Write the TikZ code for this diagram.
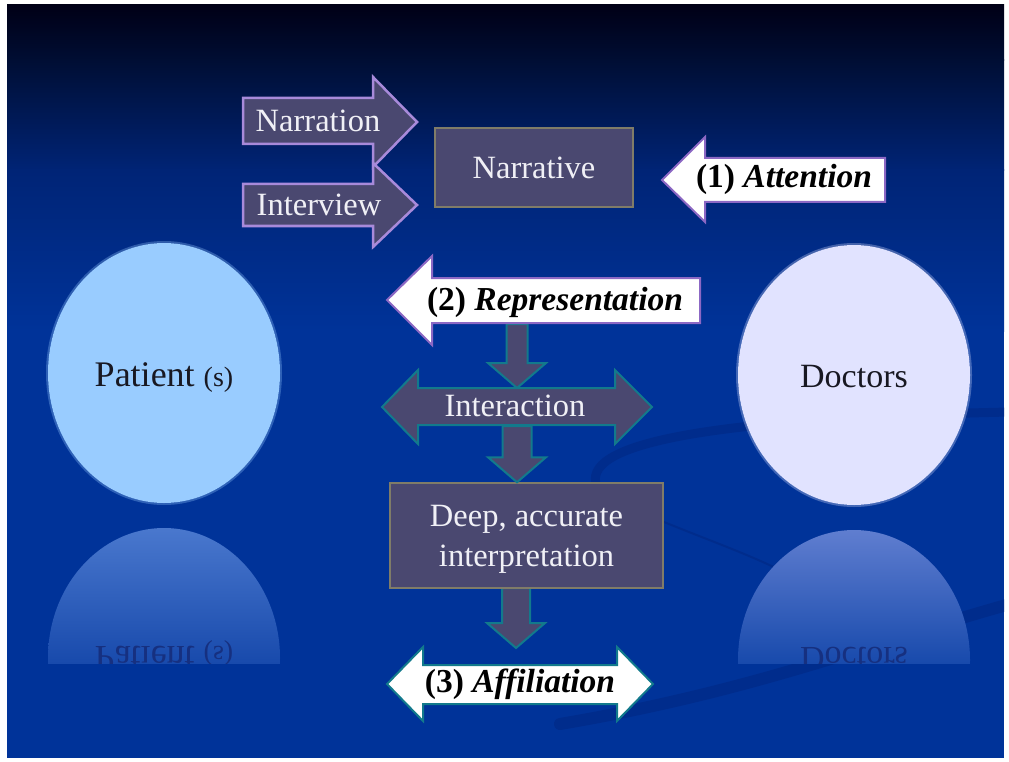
\documentclass[tikz,border=0pt]{standalone}
\usepackage{fontspec}
\setmainfont{Liberation Serif}
\usetikzlibrary{calc}

\definecolor{bgtop}{RGB}{0,0,22}
\definecolor{bgmid}{RGB}{0,14,52}
\definecolor{bgmid2}{RGB}{0,36,118}
\definecolor{bgblue}{RGB}{0,51,153}
\definecolor{swoosh}{RGB}{0,44,140}
\definecolor{boxfill}{RGB}{74,72,112}
\definecolor{boxline}{RGB}{128,124,104}
\definecolor{plumline}{RGB}{168,138,218}
\definecolor{plumedge}{RGB}{140,104,196}
\definecolor{tealline}{RGB}{18,122,140}
\definecolor{lighttxt}{RGB}{240,240,246}
\definecolor{inkcolor}{RGB}{24,24,34}
\definecolor{patientfill}{RGB}{153,204,255}
\definecolor{doctorfill}{RGB}{225,227,255}
\definecolor{patientecho}{RGB}{74,120,206}
\definecolor{doctorecho}{RGB}{96,126,208}
\definecolor{echofade}{RGB}{24,74,172}
\definecolor{echotext}{RGB}{22,48,128}

\newcommand{\downblock}[3]{%
  \draw [tealarrow] let \p1=(#1), \p2=(#2) in
    (\x1-#3,\y1) -- (\x1+#3,\y1) -- (\x1+#3,\y2+25) -- (\x1+29,\y2+25) --
    (\x1,\y2) -- (\x1-29,\y2+25) -- (\x1-#3,\y2+25) -- cycle;}

\begin{document}
\begin{tikzpicture}[x=1pt,y=-1pt]
    \tikzstyle{every node}+=[inner sep=0pt]
    \tikzstyle{lighttext}=[text=lighttxt, font=\fontsize{32.5}{40}\selectfont]
    \tikzstyle{inktext}=[text=black, font=\fontsize{33.5}{40}\selectfont\bfseries]
    \tikzstyle{plumarrow}=[draw=plumline, line width=2.5, fill=boxfill]
    \tikzstyle{whitearrow}=[draw=plumedge, line width=2, fill=white]
    \tikzstyle{tealarrow}=[draw=tealline, line width=2, fill=boxfill]
    \tikzstyle{tealwhite}=[draw=tealline, line width=2, fill=white]
    \tikzstyle{darkbox}=[draw=boxline, line width=1.5, fill=boxfill]
    \tikzstyle{swooshline}=[draw=swoosh, line cap=round]
    \fill [white] (0,0) rectangle (1009,762);
    \shade [top color=bgtop, bottom color=bgmid] (7,5) rectangle (1004,61);
    \shade [top color=bgmid, bottom color=bgmid2] (7,60) rectangle (1004,171);
    \shade [top color=bgmid2, bottom color=bgblue] (7,170) rectangle (1004,331);
    \fill [bgblue] (7,330) rectangle (1004,758);
    \useasboundingbox (0,0) rectangle (1009,762);
    \begin{scope}
        \clip (7,5) rectangle (1004,758);
        \draw [swooshline, line width=9] (596,484) .. controls (584,440) and (730,418) .. (1010,412);
        \draw [swooshline, line width=12] (560,724) .. controls (760,690) and (880,640) .. (1010,604);
        \draw [swooshline, line width=2] (664,522) .. controls (720,545) and (780,565) .. (818,592);
    \end{scope}
    \fill [patientfill] (164,373) ellipse [x radius=116, y radius=130];
    \draw [patientfill, opacity=0.3, line width=2] (164,373) ellipse [x radius=117, y radius=131];
    \fill [doctorfill] (854,375) ellipse [x radius=116, y radius=130];
    \draw [doctorfill, opacity=0.3, line width=2] (854,375) ellipse [x radius=117, y radius=131];
    \begin{scope}
        \clip (164,658) ellipse [x radius=116, y radius=130];
        \shade [top color=patientecho, bottom color=echofade] (44,527) rectangle (284,663);
    \end{scope}
    \begin{scope}
        \clip (854,660) ellipse [x radius=116, y radius=130];
        \shade [top color=doctorecho, bottom color=echofade] (734,529) rectangle (974,663);
    \end{scope}
    \begin{scope}
        \clip (30,600) rectangle (990,663);
        \node [yscale=-1, anchor=base, text=echotext, font=\fontsize{36}{40}\selectfont] (patientmirror) at (164,646) {Patient {\fontsize{28}{30}\selectfont(s)}};
        \node [yscale=-1, anchor=base, text=echotext, font=\fontsize{34}{40}\selectfont] (doctorsmirror) at (854,647) {Doctors};
    \end{scope}
    \draw [plumarrow] (243,98) -- (373,98) -- (373,77) -- (417,122) -- (373,167) -- (373,144) -- (243,144) -- cycle;
    \draw [plumarrow] (243,184) -- (373,184) -- (373,163) -- (417,205) -- (373,247) -- (373,226) -- (243,226) -- cycle;
    \node [darkbox, lighttext, minimum width=198, minimum height=79] (narrative) at (534,167.5) {Narrative};
    \draw [whitearrow] (885,158) -- (705,158) -- (705,137) -- (662,180) -- (705,222) -- (705,202) -- (885,202) -- cycle;
    \coordinate (reprfoot) at (517,324);
    \coordinate (intertop) at (517,388);
    \coordinate (interfoot) at (517,426);
    \coordinate (deepfoot) at (516,588);
    \coordinate (affiltop) at (516,648);
    \downblock{reprfoot}{intertop}{10.5}
    \downblock{deepfoot}{affiltop}{14}
    \draw [whitearrow] (700,278) -- (432,278) -- (432,256) -- (387,300) -- (432,345) -- (432,323) -- (700,323) -- cycle;
    \draw [tealarrow] (382,407) -- (418,370) -- (418,388) -- (615,388) -- (615,370) -- (652,407) -- (615,444) -- (615,425) -- (418,425) -- (418,444) -- cycle;
    \draw [tealwhite] (387,684) -- (423,647) -- (423,665) -- (617,665) -- (617,647) -- (653,684) -- (617,721) -- (617,704) -- (423,704) -- (423,721) -- cycle;
    \node [darkbox, lighttext, minimum width=273, minimum height=105, align=center, text depth=0pt] (deep) at (526.5,535.5) {Deep, accurate\\interpretation};
    \downblock{interfoot}{deep.north}{14.5}
    \node [lighttext, anchor=base] (narration) at (318,132) {Narration};
    \node [lighttext, anchor=base] (interview) at (319,215) {Interview};
    \node [inktext, anchor=base] (attention) at (784,188) {(1) \textit{Attention}};
    \node [inktext, anchor=base] (representation) at (555,310) {(2) \textit{Representation}};
    \node [lighttext, anchor=base] (interaction) at (515,416) {Interaction};
    \node [inktext, anchor=base] (affiliation) at (520,692) {(3) \textit{Affiliation}};
    \node [anchor=base, text=inkcolor, font=\fontsize{36}{40}\selectfont] (patient) at (164,386) {Patient {\fontsize{28}{30}\selectfont(s)}};
    \node [anchor=base, text=inkcolor, font=\fontsize{34}{40}\selectfont] (doctors) at (854,387) {Doctors};
\end{tikzpicture}
\end{document}
